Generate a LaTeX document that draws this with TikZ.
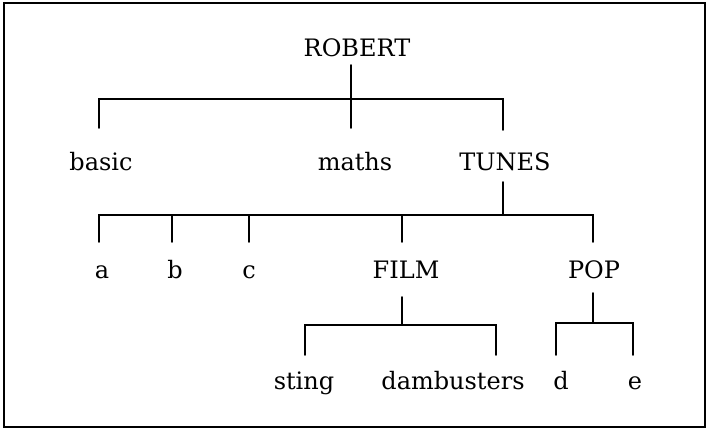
\documentclass[tikz,border=0pt]{standalone}
\usepackage{fontspec}
\setmainfont{DejaVu Serif}
\begin{document}
\begin{tikzpicture}[x=1pt,y=-1pt,
  lbl/.style={anchor=base,inner sep=0pt,font=\fontsize{24}{28}\selectfont},
  branch/.style={line width=1.8pt,line cap=round,line join=miter}]
\useasboundingbox (0,0) rectangle (708,429);
\draw[line width=1.3pt] (4,3) rectangle (705,427);
% labels
\node[lbl] (robert) at (357,56) {ROBERT};
\node[lbl] (basic) at (101,170) {basic};
\node[lbl] (maths) at (355,170) {maths};
\node[lbl] (tunes) at (505,170) {TUNES};
\node[lbl] (a) at (102,278) {a};
\node[lbl] (b) at (175,278) {b};
\node[lbl] (c) at (249,278) {c};
\node[lbl] (film) at (406,278) {FILM};
\node[lbl] (pop) at (594,278) {POP};
\node[lbl] (sting) at (304,389) {sting};
\node[lbl] (dam) at (453,389) {dambusters};
\node[lbl] (d) at (561,389) {d};
\node[lbl] (e) at (635,389) {e};
% connector points
\coordinate (r0) at (351,65);
\coordinate (r2) at (351,128);
\coordinate (bl0) at (99,128);
\coordinate (bl1) at (99,99);
\coordinate (tu1) at (503,99);
\coordinate (tu0) at (503,130);
\coordinate (t0) at (503,182);
\coordinate (t1) at (503,215);
\coordinate (a1) at (99,215);
\coordinate (a0) at (99,242);
\coordinate (b1) at (172,215);
\coordinate (b0) at (172,242);
\coordinate (c1) at (249,215);
\coordinate (c0) at (249,242);
\coordinate (f1) at (402,215);
\coordinate (f0) at (402,242);
\coordinate (p1) at (593,215);
\coordinate (p0) at (593,242);
\coordinate (fs0) at (402,297);
\coordinate (fs1) at (402,325);
\coordinate (s1) at (305,325);
\coordinate (s0) at (305,355);
\coordinate (db1) at (496,325);
\coordinate (db0) at (496,355);
\coordinate (ps0) at (593,293);
\coordinate (ps1) at (593,323);
\coordinate (d1) at (556,323);
\coordinate (d0) at (556,355);
\coordinate (e1) at (633,323);
\coordinate (e0) at (633,355);
% connectors
\draw[branch] (r0) -- (r2);
\draw[branch] (bl0) -- (bl1) -- (tu1) -- (tu0);
\draw[branch] (t0) -- (t1);
\draw[branch] (a0) -- (a1) -- (p1) -- (p0);
\draw[branch] (b1) -- (b0);
\draw[branch] (c1) -- (c0);
\draw[branch] (f1) -- (f0);
\draw[branch] (fs0) -- (fs1);
\draw[branch] (s0) -- (s1) -- (db1) -- (db0);
\draw[branch] (ps0) -- (ps1);
\draw[branch] (d0) -- (d1) -- (e1) -- (e0);
\end{tikzpicture}
\end{document}
